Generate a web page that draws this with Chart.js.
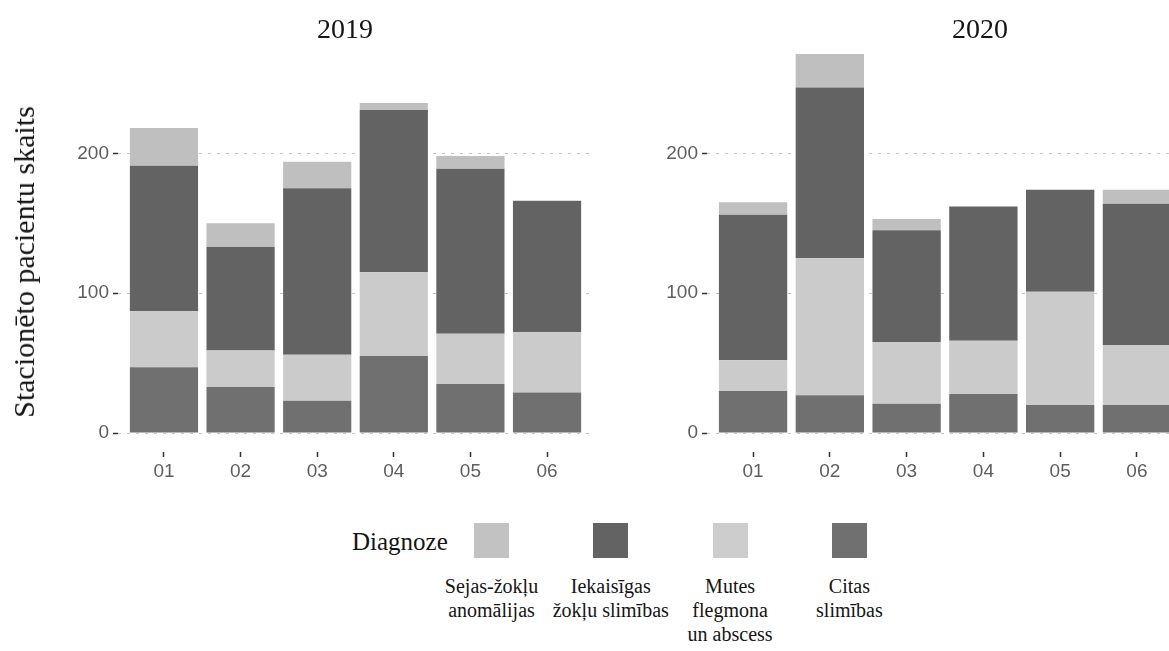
<!DOCTYPE html>
<html>
<head>
<meta charset="utf-8">
<script src="https://cdn.jsdelivr.net/npm/chart.js@4.4.1/dist/chart.umd.min.js"></script>
<style>
html,body{margin:0;padding:0;background:#fff;overflow:hidden;width:1169px;height:651px}
#wrap{position:relative;width:1169px;height:651px;overflow:hidden}
canvas{position:absolute;top:0}
.serif{position:absolute;font-family:"Liberation Serif","DejaVu Serif",serif;color:#151515;white-space:nowrap}
.title{width:200px;text-align:center;font-size:28px;line-height:32px;top:13px}
.ytitle{font-size:30px;line-height:30px;left:24px;top:262px;transform:translate(-50%,-50%) rotate(-90deg)}
.lab{width:170px;text-align:center;font-size:20px;line-height:24px;top:574px}
.box{position:absolute;width:35px;height:35px;top:523px}
</style>
</head>
<body>
<div id="wrap">
  <canvas id="c2019" width="600" height="480" style="left:0px"></canvas>
  <canvas id="c2020" width="601" height="480" style="left:589px"></canvas>
  <div class="serif title" style="left:245px">2019</div>
  <div class="serif title" style="left:880px">2020</div>
  <div class="serif ytitle">Stacionēto pacientu skaits</div>
  <div class="serif" style="left:352px;top:527px;font-size:25px;line-height:30px">Diagnoze</div>
  <div id="legend"></div>
</div>
<script>
const months=['01','02','03','04','05','06']
// 2019, values per month
const sejas2019=[27,17,19,5,9,0]
const iekais2019=[104,74,119,116,118,94]
const mutes2019=[40,26,33,60,36,43]
const citas2019=[47,33,23,55,35,29]
// 2020
const sejas2020=[9,24,8,0,0,10]
const iekais2020=[104,122,80,96,73,101]
const mutes2020=[22,98,44,38,81,43]
const citas2020=[30,27,21,28,20,20]
const yTicks=[0,100,200]

// legend order (top of stack first)
const legendNames=[['Sejas-žokļu','anomālijas'],['Iekaisīgas','žokļu slimības'],['Mutes','flegmona','un abscess'],['Citas','slimības']]
const legendColors=['#c2c2c2','#636363','#cdcdcd','#707070']

const totals=[sejas2019,iekais2019,mutes2019,citas2019,sejas2020,iekais2020,mutes2020,citas2020]
  .reduce((acc,arr,k)=>{const y=k<4?0:1;arr.forEach((v,i)=>{acc[y][i]+=v});return acc},[[0,0,0,0,0,0],[0,0,0,0,0,0]])
const topVal=Math.max(...totals[0],...totals[1])
const yMin=-topVal*0.05, yMax=topVal*1.05

function series(arr){return arr.map((v,i)=>({x:i,y:v}))}

function makeChart(id,citas,mutes,iekais,sejas){
  const ctx=document.getElementById(id).getContext('2d')
  const sets=[[citas,'#707070'],[mutes,'#cbcbcb'],[iekais,'#636363'],[sejas,'#bfbfbf']]
  return new Chart(ctx,{type:'bar',
    data:{datasets:sets.map(([d,c])=>({data:series(d),backgroundColor:c,borderWidth:0,barPercentage:0.89,categoryPercentage:1}))},
    options:{responsive:false,animation:false,devicePixelRatio:1,
      layout:{padding:{top:35,right:7,left:0,bottom:0}},
      plugins:{legend:{display:false},tooltip:{enabled:false}},
      scales:{
        x:{type:'linear',stacked:true,min:-0.6,max:5.6,offset:false,
          afterBuildTicks:s=>{s.ticks=months.map((m,i)=>({value:i}))},
          afterFit:s=>{s.height=28},
          ticks:{autoSkip:false,maxRotation:0,padding:3,color:'#5e5e5e',font:{family:'"Liberation Sans",Arial,sans-serif',size:19},callback:v=>months[v]},
          grid:{offset:false,drawOnChartArea:false,drawTicks:true,tickLength:5,tickColor:'#333',tickWidth:1.5},
          border:{display:false}},
        y:{stacked:true,min:yMin,max:yMax,
          afterBuildTicks:s=>{s.ticks=yTicks.map(v=>({value:v}))},
          afterFit:s=>{s.width=118},
          ticks:{padding:4,color:'#5e5e5e',font:{family:'"Liberation Sans",Arial,sans-serif',size:19}},
          grid:{color:'#c4c4c4',lineWidth:1,borderDash:[3,6],tickLength:5,tickColor:'#333',tickWidth:1.5,tickBorderDash:[]},
          border:{display:false,dash:[3,6]}}
      }}})
}

makeChart('c2019',citas2019,mutes2019,iekais2019,sejas2019)
makeChart('c2020',citas2020,mutes2020,iekais2020,sejas2020)

const leg=document.getElementById('legend')
legendNames.forEach((lines,i)=>{
  const cx=491.5+i*119.3
  const b=document.createElement('div');b.className='box';b.style.left=(cx-17.5)+'px';b.style.background=legendColors[i];leg.appendChild(b)
  const t=document.createElement('div');t.className='serif lab';t.style.left=(cx-85)+'px';t.innerHTML=lines.join('<br>');leg.appendChild(t)
})
</script>
</body>
</html>
